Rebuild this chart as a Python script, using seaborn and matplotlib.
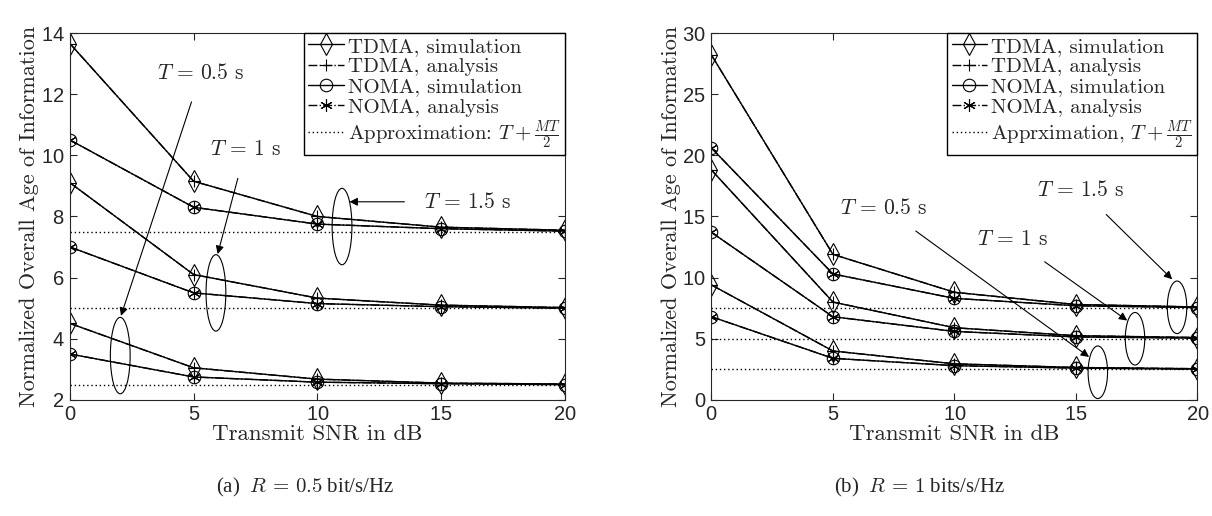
import numpy as np
import pandas as pd
import seaborn as sns
import matplotlib.pyplot as plt
from matplotlib.lines import Line2D
from matplotlib.patches import Ellipse

snr = [0, 5, 10, 15, 20]
periods = [1.5, 1.0, 0.5]

# R = 0.5 bit/s/Hz
tdma_a = {1.5: [13.65, 9.15, 8.0, 7.65, 7.55],
          1.0: [9.1, 6.1, 5.33, 5.1, 5.02],
          0.5: [4.5, 3.05, 2.68, 2.55, 2.52]}
noma_a = {1.5: [10.5, 8.3, 7.75, 7.6, 7.52],
          1.0: [7.0, 5.5, 5.15, 5.05, 5.0],
          0.5: [3.5, 2.75, 2.58, 2.53, 2.5]}
# R = 1 bits/s/Hz
tdma_b = {1.5: [28.2, 11.9, 8.8, 7.8, 7.6],
          1.0: [18.8, 8.0, 5.9, 5.25, 5.1],
          0.5: [9.4, 4.0, 2.95, 2.65, 2.55]}
noma_b = {1.5: [20.6, 10.3, 8.3, 7.7, 7.55],
          1.0: [13.7, 6.8, 5.6, 5.15, 5.05],
          0.5: [6.8, 3.4, 2.8, 2.6, 2.52]}
approx = {1.5: 7.5, 1.0: 5.0, 0.5: 2.5}

sns.set_style("ticks")
plt.rcParams["font.family"] = ["cmr10", "DejaVu Serif"]
plt.rcParams["mathtext.fontset"] = "cm"
plt.rcParams["axes.formatter.use_mathtext"] = True

fig = plt.figure(figsize=(12.12, 5.16), dpi=100)
ax1 = fig.add_axes([0.0578, 0.225, 0.408, 0.711])
ax2 = fig.add_axes([0.587, 0.225, 0.401, 0.711])

AST = (6, 2, 0)
ms = 9


def draw(ax, tdma, noma):
    for T in periods:
        df = pd.DataFrame({"snr": snr, "tdma": tdma[T], "noma": noma[T]})
        sns.lineplot(data=df, x="snr", y="tdma", ax=ax, color="k", lw=1, marker="d",
                     ms=ms + 2, mfc="none", mec="k", mew=0.8, errorbar=None)
        sns.lineplot(data=df, x="snr", y="tdma", ax=ax, color="k", lw=1, linestyle="-.",
                     marker="+", ms=ms, mec="k", mew=0.8, errorbar=None)
        sns.lineplot(data=df, x="snr", y="noma", ax=ax, color="k", lw=1, marker="o",
                     ms=ms, mfc="none", mec="k", mew=0.8, errorbar=None)
        sns.lineplot(data=df, x="snr", y="noma", ax=ax, color="k", lw=1, linestyle="-.",
                     marker=AST, ms=ms, mec="k", mew=0.8, errorbar=None)
        ax.plot([snr[0], snr[-1]], [approx[T]] * 2, color="k", lw=1, linestyle=(0, (1, 2)))
    ax.set_xlim(0, 20)
    ax.set_xticks(snr)
    ax.tick_params(direction="in", top=True, right=True, length=5, labelsize=14.5, pad=4)
    for lab in ax.get_xticklabels() + ax.get_yticklabels():
        lab.set_fontfamily("Liberation Sans")
    ax.set_xlabel("Transmit SNR in dB", fontsize=16.5, labelpad=0)
    ax.set_ylabel("Normalized Overall Age of Information", fontsize=16, labelpad=1)
    for s in ax.spines.values():
        s.set_linewidth(0.8)


def legend(ax, last):
    h = [Line2D([], [], color="k", lw=1, marker="d", ms=ms + 2, mfc="none", mew=0.8),
         Line2D([], [], color="k", lw=1, ls="-.", marker="+", ms=ms, mew=0.8),
         Line2D([], [], color="k", lw=1, marker="o", ms=ms, mfc="none", mew=0.8),
         Line2D([], [], color="k", lw=1, ls="-.", marker=AST, ms=ms, mew=0.8),
         Line2D([], [], color="k", lw=1, ls=(0, (1, 2)))]
    labels = ["TDMA, simulation", "TDMA, analysis", "NOMA, simulation",
              "NOMA, analysis", last]
    ax.legend(h, labels, loc="upper right", fontsize=15, handlelength=1.7,
              handletextpad=0.2, labelspacing=0.08, borderpad=0.2, borderaxespad=0,
              fancybox=False, edgecolor="k", framealpha=1)


def note(ax, text, xytext, xy):
    ax.annotate(text, xy=xy, xytext=xytext, fontsize=15.5, ha="center", va="center",
                arrowprops=dict(arrowstyle="-|>", color="k", lw=0.8,
                                shrinkA=12, shrinkB=0, mutation_scale=12))


# (a)
draw(ax1, tdma_a, noma_a)
ax1.set_ylim(2, 14)
ax1.set_yticks([2, 4, 6, 8, 10, 12, 14])
legend(ax1, r"Approximation: $T+\frac{MT}{2}$")
for cx, cy in [(2.03, 3.45), (5.9, 5.5), (11.0, 7.67)]:
    ax1.add_patch(Ellipse((cx, cy), 0.8, 2.5, fill=False, lw=0.8, color="k"))
note(ax1, r"$T\,=\,0.5$ s", (5.3, 12.7), (2.06, 4.75))
note(ax1, r"$T\,=\,1$ s", (7.1, 10.2), (5.97, 6.77))
note(ax1, r"$T\,=\,1.5$ s", (16.1, 8.48), (11.3, 8.48))

# (b)
draw(ax2, tdma_b, noma_b)
ax2.set_ylim(0, 30)
ax2.set_yticks([0, 5, 10, 15, 20, 25, 30])
legend(ax2, r"Apprximation, $T+\frac{MT}{2}$")
for cx, cy in [(15.9, 2.26), (17.43, 5.0), (19.16, 7.57)]:
    ax2.add_patch(Ellipse((cx, cy), 0.8, 4.3, fill=False, lw=0.8, color="k"))
note(ax2, r"$T\,=\,0.5$ s", (7.1, 15.7), (15.54, 3.51))
note(ax2, r"$T\,=\,1$ s", (12.4, 13.15), (17.11, 6.49))
note(ax2, r"$T\,=\,1.5$ s", (15.2, 17.2), (18.96, 9.86))

cap_font = ["Liberation Serif", "DejaVu Serif"]
fig.text(305 / 1212, 1 - 487 / 516, r"(a)  $R\,=\,0.5$ bit/s/Hz", ha="center",
         va="center", fontsize=15, family=cap_font)
fig.text(920 / 1212, 1 - 487 / 516, r"(b)  $R\,=\,1$ bits/s/Hz", ha="center",
         va="center", fontsize=15, family=cap_font)

fig.savefig("out.png", dpi=100)
